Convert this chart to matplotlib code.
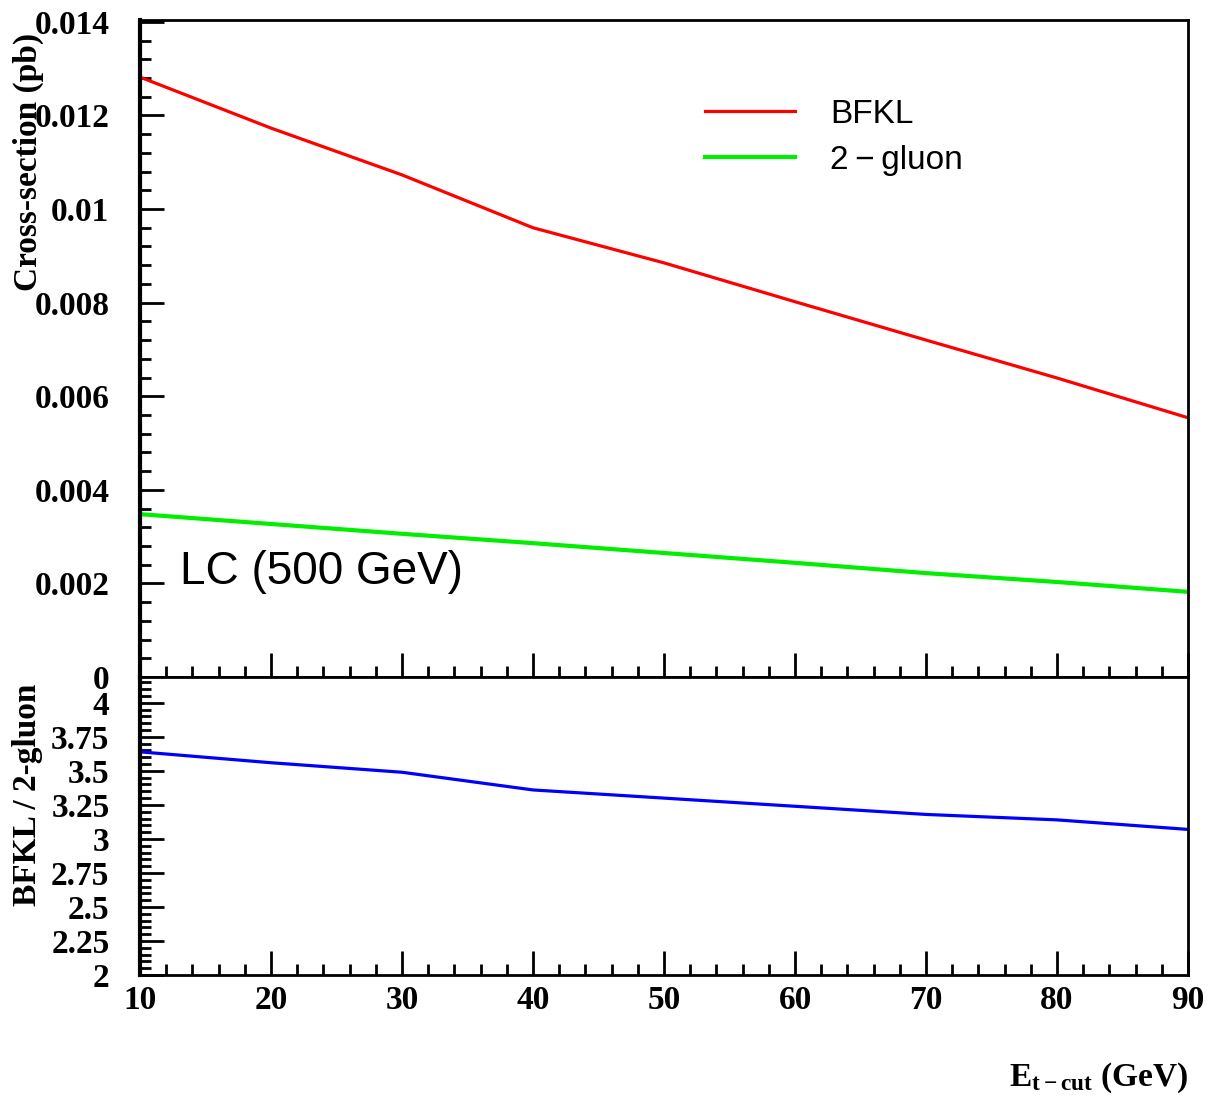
import numpy as np
import matplotlib
matplotlib.use("Agg")
import matplotlib.pyplot as plt
from matplotlib.ticker import MultipleLocator, FixedLocator

plt.rcParams.update({
    "font.family": ["Liberation Serif", "DejaVu Serif"],
    "font.weight": "bold",
    "mathtext.fontset": "custom",
    "mathtext.rm": "Liberation Serif:bold",
    "mathtext.it": "Liberation Serif:bold",
})

# values
et_cut = [10, 20, 30, 40, 50, 60, 70, 80, 90]
bfkl = [0.01282, 0.01173, 0.01073, 0.00960, 0.00885, 0.00802, 0.00720, 0.00639, 0.00554]
two_gluon = [0.00348, 0.00327, 0.00306, 0.00286, 0.00265, 0.00244, 0.00222, 0.00203, 0.00182]
ratio = [3.64, 3.56, 3.49, 3.36, 3.30, 3.24, 3.18, 3.14, 3.07]

top_ticks = [0, 0.002, 0.004, 0.006, 0.008, 0.01, 0.012, 0.014]
top_labels = ["0", "0.002", "0.004", "0.006", "0.008", "0.01", "0.012", "0.014"]
bot_ticks = [2, 2.25, 2.5, 2.75, 3, 3.25, 3.5, 3.75, 4]
bot_labels = ["2", "2.25", "2.5", "2.75", "3", "3.25", "3.5", "3.75", "4"]
x_ticks = [10, 20, 30, 40, 50, 60, 70, 80, 90]

W, H = 1213, 1099
fig = plt.figure(figsize=(W / 100, H / 100), dpi=100)

left, right = 140 / W, 1188 / W
ax1 = fig.add_axes([left, 1 - 677 / H, right - left, (677 - 20) / H])
ax2 = fig.add_axes([left, 1 - 975 / H, right - left, (975 - 677) / H])

for ax in (ax1, ax2):
    for s in ax.spines.values():
        s.set_linewidth(2)
    ax.spines["left"].set_linewidth(3)
    ax.set_xlim(10, 90)
    ax.xaxis.set_major_locator(FixedLocator(x_ticks))
    ax.xaxis.set_minor_locator(MultipleLocator(2))
    ax.tick_params(which="both", direction="in", top=False, right=False, width=2)
    ax.tick_params(which="major", length=17)
    ax.tick_params(which="minor", length=8)
    ax.tick_params(axis="y", which="major", labelsize=24, pad=22)
    ax.tick_params(axis="x", which="major", labelsize=24, pad=7)

# top panel
ax1.plot(et_cut, bfkl, color="#ff0000", linewidth=2.3, label="BFKL")
ax1.plot(et_cut, two_gluon, color="#00ee00", linewidth=3, label="2-gluon")
ax1.set_ylim(0, 0.01404)
ax1.yaxis.set_major_locator(FixedLocator(top_ticks))
ax1.set_yticklabels(top_labels)
ax1.yaxis.set_minor_locator(MultipleLocator(0.0004))
ax1.tick_params(axis="x", labelbottom=False)

leg = ax1.legend(loc="center left", bbox_to_anchor=(0.539, 0.821), frameon=False,
                 borderpad=0, borderaxespad=0, handlelength=2.7, handletextpad=1.05,
                 labelspacing=0.45, prop={"family": "Liberation Sans", "size": 24, "weight": "normal"})
for t in leg.get_texts():
    t.set_text(t.get_text().replace("-", "\u2009\u2212\u2009"))

# LC label, placed in data coordinates of the upper panel
ax1.text(13.05, 0.00224, "LC (500 GeV)", fontsize=33,
         family="Liberation Sans", fontweight="normal", ha="left", va="center")

# bottom panel
ax2.plot(et_cut, ratio, color="#0000ff", linewidth=2.3)
ax2.set_ylim(2, 4.19)
ax2.yaxis.set_major_locator(FixedLocator(bot_ticks))
ax2.set_yticklabels(bot_labels)
ax2.yaxis.set_minor_locator(MultipleLocator(0.05))
ax2.set_xticklabels([str(v) for v in x_ticks])

fig.text(28 / W, 1 - 162 / H, "Cross-section (pb)", rotation=90, ha="center", va="center",
         fontsize=24, fontweight="bold")
fig.text(28 / W, 1 - 795 / H, "BFKL / 2-gluon", rotation=90, ha="center", va="center",
         fontsize=24, fontweight="bold")
fig.text(1188 / W, 1 - 1078 / H, r"E$_{\mathrm{t-cut}}$ (GeV)", ha="right", va="center",
         fontsize=24, fontweight="bold")

fig.savefig("out.png", dpi=100)
